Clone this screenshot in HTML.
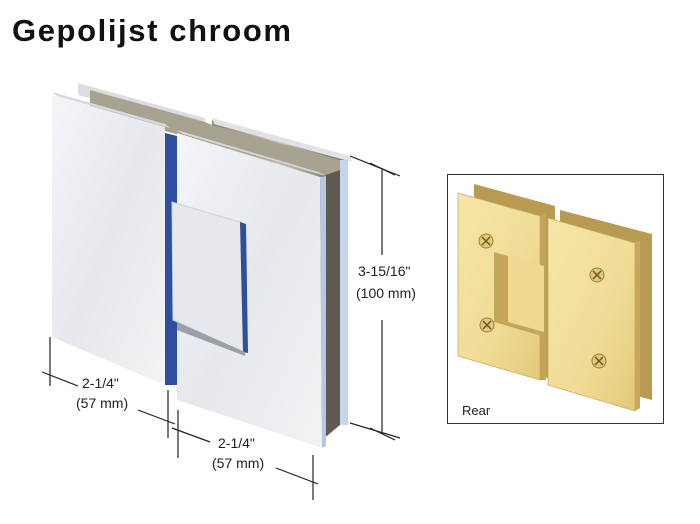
<!DOCTYPE html>
<html><head><style>
html,body{margin:0;padding:0;background:#fff;}
body{width:700px;height:524px;overflow:hidden;position:relative;font-family:"Liberation Sans",sans-serif;}
h1{position:absolute;left:12px;top:13px;margin:0;font-size:31px;font-weight:bold;color:#111;letter-spacing:1.6px;}
</style></head><body>
<h1>Gepolijst chroom</h1>
<svg width="700" height="524" style="position:absolute;left:0;top:0" xmlns="http://www.w3.org/2000/svg">
<defs>
<linearGradient id="ch" x1="0" y1="0" x2="1" y2="1">
<stop offset="0" stop-color="#f4f5f8"/><stop offset="0.5" stop-color="#e6e8ec"/><stop offset="1" stop-color="#f2f3f5"/></linearGradient>
<linearGradient id="bk" x1="0" y1="0" x2="1" y2="0">
<stop offset="0" stop-color="#8a8578"/><stop offset="0.5" stop-color="#c9c4b6"/><stop offset="1" stop-color="#6e6a60"/></linearGradient>
<linearGradient id="gd" x1="0" y1="0" x2="1" y2="1">
<stop offset="0" stop-color="#f6e6a8"/><stop offset="0.6" stop-color="#f0dc96"/><stop offset="1" stop-color="#e4c878"/></linearGradient>
</defs>
<polygon points="78,83 205,118 205,130 78,95" fill="#dcdde0"/>
<polygon points="212,120 347,158 347,425 212,385" fill="url(#bk)"/>
<polygon points="90,90 205,122 212,125 340,160 340,180 90,110" fill="#a8a290"/>
<polygon points="212,118 350,156 352,162 214,124" fill="#e0e2e6"/>
<polygon points="340,160 348,160 348,425 340,425" fill="#c8d4ec"/>
<polygon points="320,177 340,170 340,425 322,440" fill="#5e5a52"/>
<polygon points="52,95 165,127 165,385 52,337" fill="url(#ch)"/>
<polygon points="52,92 165,124 170,128 57,96" fill="#d8d9dd"/>
<polygon points="165,133 177,136 177,385 165,385" fill="#2d4fa0"/>
<polygon points="177,133 320,177 322,448 177,400" fill="url(#ch)"/>
<polygon points="177,130 318,172 326,176 183,134" fill="#d6d7db"/>
<polygon points="320,177 326,176 326,446 322,448" fill="#b9c6e2"/>
<polygon points="172,202 243,223 245,353 173,320" fill="#e7e8ec" stroke="#cfd1d6" stroke-width="1"/>
<polygon points="240,222 246,224 248,353 243,352" fill="#2d4fa0"/>
<polygon points="177,322 245,352 245,356 177,330" fill="#9aa0aa"/>
<g stroke="#222" stroke-width="1.2" fill="none">
<line x1="350" y1="156" x2="400" y2="176"/>
<line x1="350" y1="423" x2="400" y2="438"/>
<line x1="382" y1="168" x2="382" y2="255"/>
<line x1="382" y1="320" x2="382" y2="434"/>
<line x1="370" y1="163" x2="395" y2="175"/>
<line x1="370" y1="428" x2="395" y2="440"/>
<line x1="50" y1="337" x2="50" y2="386"/>
<line x1="42" y1="372" x2="78" y2="386"/>
<line x1="138" y1="410" x2="175" y2="424"/>
<line x1="168" y1="390" x2="168" y2="438"/>
<line x1="178" y1="410" x2="178" y2="458"/>
<line x1="172" y1="428" x2="210" y2="442"/>
<line x1="276" y1="468" x2="318" y2="484"/>
<line x1="313" y1="455" x2="313" y2="500"/>
</g>
<g font-family="Liberation Sans, sans-serif" font-size="14" fill="#222">
<text x="358" y="276">3-15/16"</text>
<text x="356" y="298">(100 mm)</text>
<text x="82" y="388">2-1/4"</text>
<text x="76" y="408">(57 mm)</text>
<text x="218" y="448">2-1/4"</text>
<text x="212" y="468">(57 mm)</text>
</g>
<rect x="447.5" y="174.5" width="216" height="249" fill="#fff" stroke="#333" stroke-width="1"/>
<polygon points="474,184 555,206 555,380 474,355" fill="#b89a50"/>
<polygon points="560,210 652,234 652,400 560,375" fill="#b89a50"/>
<polygon points="458,193 540,216 540,380 458,356" fill="url(#gd)" stroke="#c9ac62" stroke-width="0.8"/>
<polygon points="540,216 546,214 546,380 540,380" fill="#c2a458"/>
<polygon points="494,252 542,266 542,336 494,322" fill="#c4a65a"/>
<polygon points="508,256 544,266 544,332 508,322" fill="#efd990"/>
<polygon points="548,218 635,243 635,411 548,385" fill="url(#gd)" stroke="#c9ac62" stroke-width="0.8"/>
<polygon points="635,243 640,240 640,408 635,411" fill="#c7a85c"/>
<g fill="#e2c878" stroke="#9c7f3a" stroke-width="1">
<circle cx="486" cy="241" r="7"/><circle cx="487" cy="325" r="7"/>
<circle cx="597" cy="275" r="7"/><circle cx="599" cy="361" r="7"/>
</g>
<g stroke="#6e5624" stroke-width="1.5">
<path d="M482 237l8 8M490 237l-8 8"/><path d="M483 321l8 8M491 321l-8 8"/>
<path d="M593 271l8 8M601 271l-8 8"/><path d="M595 357l8 8M603 357l-8 8"/>
</g>
<text x="462" y="415" font-family="Liberation Sans, sans-serif" font-size="13" fill="#222">Rear</text>
</svg>
</body></html>
